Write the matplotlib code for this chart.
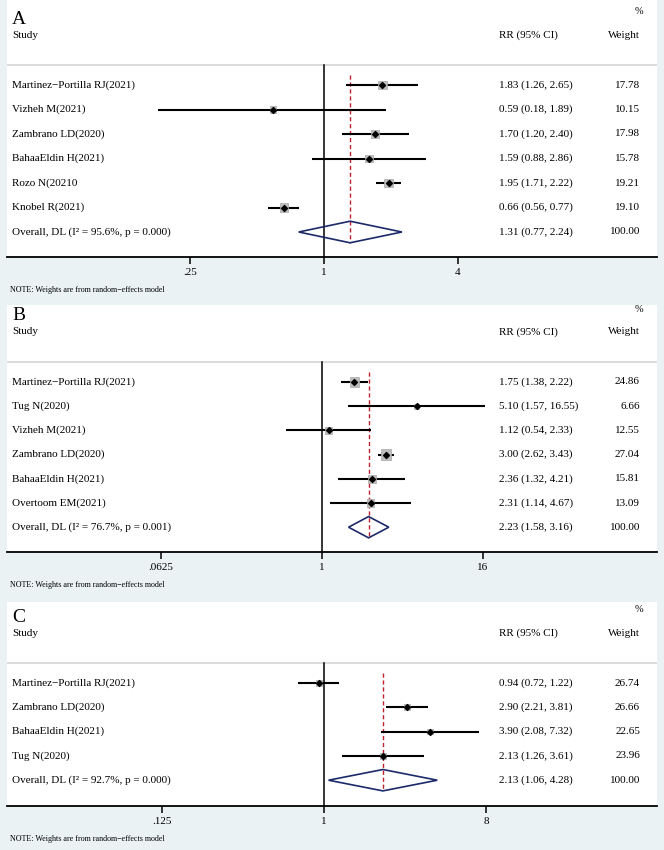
import matplotlib
matplotlib.use('Agg')
import matplotlib.pyplot as plt
import numpy as np
from matplotlib.ticker import FixedLocator, FixedFormatter, NullLocator

plt.rcParams['font.family'] = ['Liberation Serif', 'DejaVu Serif']

# ---- data ----
studies_a = ['Martinez\u2212Portilla RJ(2021)', 'Vizheh M(2021)', 'Zambrano LD(2020)',
             'BahaaEldin H(2021)', 'Rozo N(20210', 'Knobel R(2021)']
rr_a = [1.83, 0.59, 1.70, 1.59, 1.95, 0.66]
lo_a = [1.26, 0.18, 1.20, 0.88, 1.71, 0.56]
hi_a = [2.65, 1.89, 2.40, 2.86, 2.22, 0.77]
w_a = [17.78, 10.15, 17.98, 15.78, 19.21, 19.10]
pooled_a = [1.31, 0.77, 2.24]
i2_a, p_a = 95.6, 0.000
ticks_a = [0.25, 1, 4]
ticklabels_a = ['.25', '1', '4']

studies_b = ['Martinez\u2212Portilla RJ(2021)', 'Tug N(2020)', 'Vizheh M(2021)',
             'Zambrano LD(2020)', 'BahaaEldin H(2021)', 'Overtoom EM(2021)']
rr_b = [1.75, 5.10, 1.12, 3.00, 2.36, 2.31]
lo_b = [1.38, 1.57, 0.54, 2.62, 1.32, 1.14]
hi_b = [2.22, 16.55, 2.33, 3.43, 4.21, 4.67]
w_b = [24.86, 6.66, 12.55, 27.04, 15.81, 13.09]
pooled_b = [2.23, 1.58, 3.16]
i2_b, p_b = 76.7, 0.001
ticks_b = [0.0625, 1, 16]
ticklabels_b = ['.0625', '1', '16']

studies_c = ['Martinez\u2212Portilla RJ(2021)', 'Zambrano LD(2020)',
             'BahaaEldin H(2021)', 'Tug N(2020)']
rr_c = [0.94, 2.90, 3.90, 2.13]
lo_c = [0.72, 2.21, 2.08, 1.26]
hi_c = [1.22, 3.81, 7.32, 3.61]
w_c = [26.74, 26.66, 22.65, 23.96]
pooled_c = [2.13, 1.06, 4.28]
i2_c, p_c = 92.7, 0.000
ticks_c = [0.125, 1, 8]
ticklabels_c = ['.125', '1', '8']

BG = '#eaf2f3'
NAVY = '#1c2a6a'
RED = '#c0202c'
W, H = 664, 850

fig = plt.figure(figsize=(W / 100, H / 100), dpi=100, facecolor=BG)


def panel(letter, studies, rr, lo, hi, wts, pooled, i2, p, ticks, ticklabels,
          top_px, first_px, axis_px, sp, x1_px, ppd, box_k):
    left_px, right_px = 7, 657
    ax = fig.add_axes([left_px / W, 1 - axis_px / H, (right_px - left_px) / W,
                       (axis_px - top_px) / H])
    ax.set_facecolor('white')
    ax.set_xscale('log', base=2)
    ax.set_xlim(2 ** ((left_px - x1_px) / ppd), 2 ** ((right_px - x1_px) / ppd))
    ybot = (axis_px - first_px) / sp
    ytop = -(first_px - top_px) / sp
    ax.set_ylim(ybot, ytop)

    for s in ['top', 'left', 'right']:
        ax.spines[s].set_visible(False)
    ax.spines['bottom'].set_linewidth(1.3)
    ax.spines['bottom'].set_color('black')
    ax.set_yticks([])
    ax.xaxis.set_major_locator(FixedLocator(ticks))
    ax.xaxis.set_major_formatter(FixedFormatter(ticklabels))
    ax.xaxis.set_minor_locator(NullLocator())
    ax.tick_params(axis='x', length=5, width=1.1, labelsize=8, pad=3)

    tr = ax.get_yaxis_transform()
    fx = lambda px: (px - left_px) / (right_px - left_px)

    sep_y = -20 / sp
    ax.axhline(sep_y, color='#d6d6d6', lw=1.2)
    ax.plot([1, 1], [sep_y, ybot], color='black', lw=1.1, clip_on=False)

    n = len(studies)
    ov = n
    # red dashed line at pooled estimate
    ax.plot([pooled[0], pooled[0]], [-0.42, ov + 0.45], color=RED, lw=1.0,
            dashes=(3, 2))

    ys = np.arange(n)
    for i in range(n):
        ax.plot([lo[i], hi[i]], [ys[i], ys[i]], color='black', lw=1.5,
                solid_capstyle='butt', zorder=3)
    side = box_k * np.sqrt(np.array(wts)) * 0.72
    ax.scatter(rr, ys, s=side ** 2, marker='s', color='#bdbdbd',
               edgecolor='#a8a8a8', linewidth=0.5, zorder=4)
    ax.scatter(rr, ys, s=9, marker='D', color='black', zorder=5)

    # pooled diamond
    est, plo, phi = pooled
    ax.fill([plo, est, phi, est], [ov, ov - 0.44, ov, ov + 0.44],
            facecolor='none', edgecolor=NAVY, lw=1.2, zorder=4)

    # text columns
    for i in range(n):
        ax.text(fx(12), ys[i], studies[i], transform=tr, fontsize=8,
                va='center', ha='left')
        ax.text(fx(499), ys[i], f'{rr[i]:.2f} ({lo[i]:.2f}, {hi[i]:.2f})',
                transform=tr, fontsize=8, va='center', ha='left')
        ax.text(fx(640), ys[i], f'{wts[i]:.2f}', transform=tr, fontsize=8,
                va='center', ha='right')
    ax.text(fx(12), ov, f'Overall, DL (I\u00b2 = {i2:.1f}%, p = {p:.3f})',
            transform=tr, fontsize=8, va='center', ha='left')
    ax.text(fx(499), ov, f'{est:.2f} ({plo:.2f}, {phi:.2f})', transform=tr,
            fontsize=8, va='center', ha='left')
    ax.text(fx(640), ov, '100.00', transform=tr, fontsize=8, va='center',
            ha='right')

    # header
    ax.text(fx(12), -66 / sp, letter, transform=tr, fontsize=14, va='center',
            ha='left')
    ax.text(fx(643), -73 / sp, '%', transform=tr, fontsize=7.5, va='center',
            ha='right')
    ax.text(fx(12), -50 / sp, 'Study', transform=tr, fontsize=8, va='center',
            ha='left')
    ax.text(fx(499), -50 / sp, 'RR (95% CI)', transform=tr, fontsize=8,
            va='center', ha='left')
    ax.text(fx(640), -50 / sp, 'Weight', transform=tr, fontsize=8,
            va='center', ha='right')

    fig.text(10 / W, 1 - (axis_px + 33) / H,
             'NOTE: Weights are from random\u2212effects model', fontsize=5.8,
             va='center', ha='left')
    return ax


panel('A', studies_a, rr_a, lo_a, hi_a, w_a, pooled_a, i2_a, p_a, ticks_a,
      ticklabels_a, top_px=0, first_px=85, axis_px=257, sp=24.5, x1_px=324,
      ppd=67, box_k=1.95)
panel('B', studies_b, rr_b, lo_b, hi_b, w_b, pooled_b, i2_b, p_b, ticks_b,
      ticklabels_b, top_px=305, first_px=382, axis_px=552, sp=24.2,
      x1_px=322, ppd=40.25, box_k=2.0)
panel('C', studies_c, rr_c, lo_c, hi_c, w_c, pooled_c, i2_c, p_c, ticks_c,
      ticklabels_c, top_px=602, first_px=683, axis_px=806, sp=24.3,
      x1_px=324, ppd=54, box_k=1.2)

fig.savefig('out.png', dpi=100, facecolor=BG)
